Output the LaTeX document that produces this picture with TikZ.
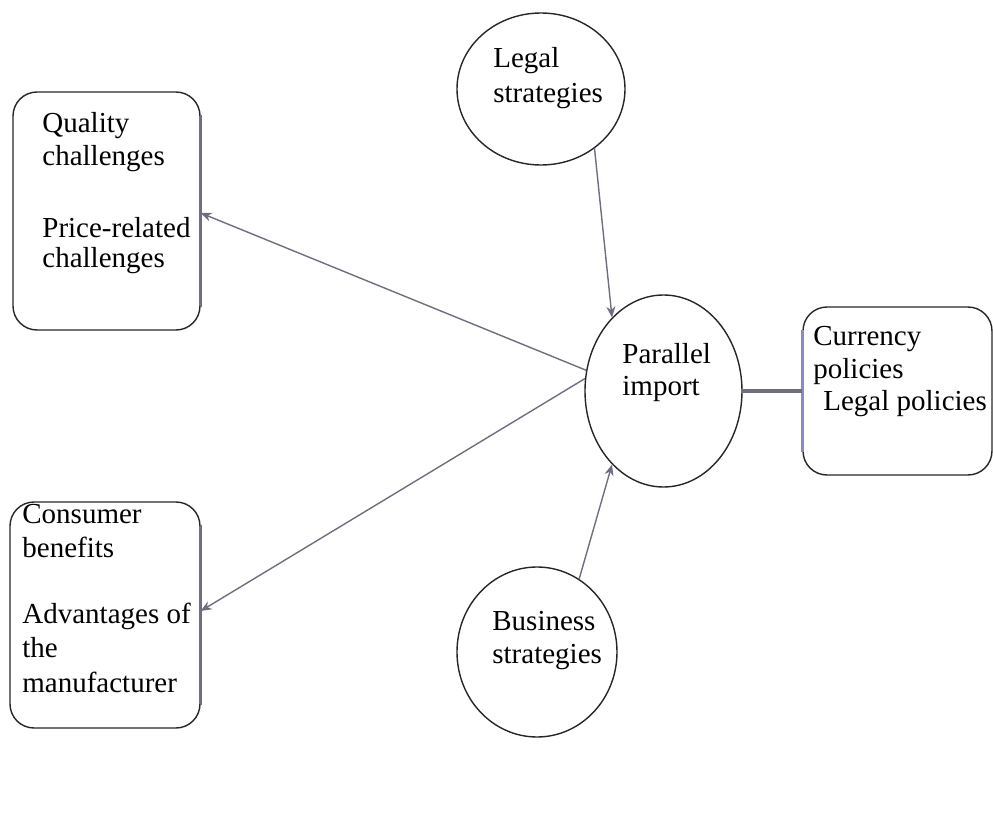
\documentclass[tikz,border=0pt]{standalone}
\usepackage{fontspec}
\setmainfont{Liberation Serif}
\usetikzlibrary{shapes.geometric,arrows.meta}
\definecolor{linegray}{HTML}{6E6E7E}
\definecolor{edgeblue}{HTML}{8A8AC8}
\begin{document}
\begin{tikzpicture}[x=0.5pt,y=-0.5pt,
  box/.style={draw=black!85,line width=0.7pt,rounded corners=12pt,inner sep=0pt},
  oval/.style={draw=black!85,line width=0.7pt,ellipse,inner sep=0pt},
  txt/.style={anchor=base west,inner sep=0pt,font=\fontsize{14.5}{16}\selectfont},
  conn/.style={draw=linegray,line width=0.7pt,-{Stealth[length=5.5pt,width=4.5pt]}},
  thickconn/.style={draw=linegray,line width=2pt}]
\useasboundingbox (0,0) rectangle (993,819);
% shapes
\node[box,minimum width=93.5pt,minimum height=119pt] (qual) at (106.5,211) {};
\node[box,minimum width=95pt,minimum height=113pt] (cons) at (105,615) {};
\node[box,minimum width=94.5pt,minimum height=84pt] (curr) at (897.5,391) {};
\node[oval,minimum width=84pt,minimum height=76pt] (legal) at (541,89) {};
\node[oval,minimum width=78.5pt,minimum height=96pt] (par) at (663.5,391) {};
\node[oval,minimum width=80pt,minimum height=85pt] (bus) at (537,652) {};
% texts
\node[txt] (q1) at (42,133) {Quality};
\node[txt] (q2) at (42,165) {challenges};
\node[txt] (q3) at (42,237) {Price-related};
\node[txt] (q4) at (42,267) {challenges};
\node[txt] (l1) at (493,68) {Legal};
\node[txt] (l2) at (493,102) {strategies};
\node[txt] (p1) at (622,363) {Parallel};
\node[txt] (p2) at (622,395) {import};
\node[txt] (c1) at (813,345) {Currency};
\node[txt] (c2) at (813,378) {policies};
\node[txt] (c3) at (823,410) {Legal policies};
\node[txt] (k1) at (22,523) {Consumer};
\node[txt] (k2) at (22,557) {benefits};
\node[txt] (k3) at (22,623) {Advantages of};
\node[txt] (k4) at (22,657) {the};
\node[txt] (k5) at (22,692) {manufacturer};
\node[txt] (b1) at (492,630) {Business};
\node[txt] (b2) at (492,663) {strategies};
% coloured edges
\draw[edgeblue,line width=1.4pt] ([yshift=-12pt]curr.north west) -- ([yshift=12pt]curr.south west);
\draw[linegray,line width=1.1pt] ([yshift=-12pt]qual.north east) -- ([yshift=12pt]qual.south east);
\draw[linegray,line width=1.1pt] ([yshift=-12pt]cons.north east) -- ([yshift=12pt]cons.south east);
% connectors
\draw[conn] (par.165) -- ([yshift=-1pt]qual.east);
\draw[conn] (par.171) -- ([yshift=2pt]cons.east);
\draw[conn] (legal.-48) -- (par.125);
\draw[conn] (bus.60) -- (par.-125);
\draw[thickconn] (curr.west) -- (par.east);
\end{tikzpicture}
\end{document}
